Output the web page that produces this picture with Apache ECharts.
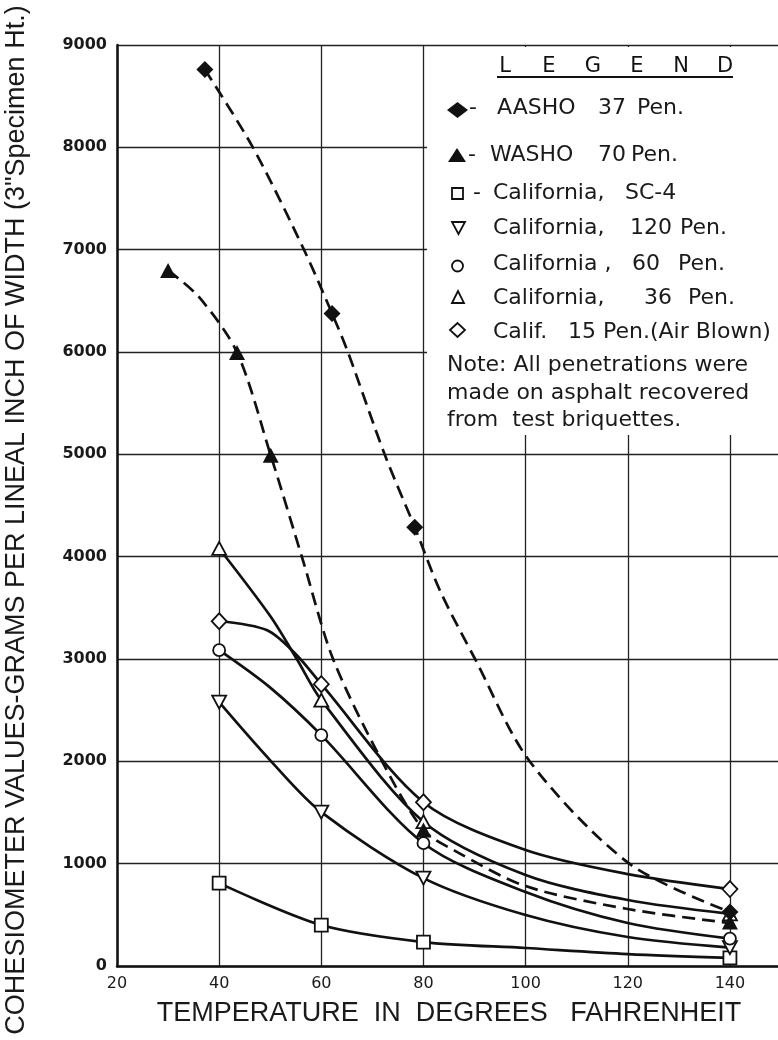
<!DOCTYPE html>
<html>
<head>
<meta charset="utf-8">
<title>Cohesiometer values vs temperature</title>
<script src="https://cdn.jsdelivr.net/npm/echarts@6.0.0/dist/echarts.min.js"></script>
<style>
  html, body { margin: 0; padding: 0; background: #fff; }
  #chart { width: 778px; height: 1040px; }
</style>
</head>
<body>
<div id="chart"></div>
<script>
// tick values
var xTicks = [20, 40, 60, 80, 100, 120, 140];
var yTicks = [0, 1000, 2000, 3000, 4000, 5000, 6000, 7000, 8000, 9000];

// measured points (deg F, grams per lineal inch of width)
var aashoX = [37.2, 62.1, 78.3, 140];
var aashoY = [8760, 6377, 4287, 527];
var washoX = [30, 43.5, 50.1, 80, 140];
var washoY = [6797, 5996, 4990, 1330, 430];
var sc4X = [40, 60, 80, 140];
var sc4Y = [810, 400, 234, 80];
var pen120X = [40, 60, 80, 140];
var pen120Y = [2578, 1504, 859, 180];
var pen60X = [40, 60, 80, 140];
var pen60Y = [3086, 2256, 1200, 268];
var pen36X = [40, 60, 80, 140];
var pen36Y = [4080, 2598, 1410, 510];
var pen15X = [40, 60, 80, 140];
var pen15Y = [3369, 2754, 1600, 752];

// points
var aashoCurveX = [37.2, 46.6, 56.6, 62.1, 65.2, 72.4, 78.3, 83.2, 90.1, 100.8, 120.3, 140];
var aashoCurveY = [8760, 8000, 7000, 6377, 6000, 5000, 4287, 3672, 3000, 2000, 1000, 527];
var washoCurveX = [30, 36, 43.5, 50.1, 56.4, 62.3, 71.9, 80, 86, 100, 120, 140];
var washoCurveY = [6797, 6540, 5996, 4990, 3965, 3000, 2000, 1330, 1130, 781, 557, 420];
var sc4CurveX = [40, 60, 80, 100, 120, 140];
var sc4CurveY = [810, 400, 234, 176, 117, 80];
var pen120CurveX = [40, 50, 60, 80, 100, 120, 140];
var pen120CurveY = [2578, 2010, 1504, 859, 498, 283, 180];
var pen60CurveX = [40, 50, 60, 80, 100, 120, 140];
var pen60CurveY = [3086, 2720, 2256, 1200, 723, 420, 268];
var pen36CurveX = [40, 50, 55.2, 60, 80, 100, 120, 140];
var pen36CurveY = [4080, 3420, 3000, 2598, 1410, 889, 645, 510];
var pen15CurveX = [40, 49.4, 55.2, 60, 80, 100, 120, 140];
var pen15CurveY = [3369, 3281, 3037, 2754, 1600, 1133, 898, 752];

var ink = '#111';

function pairs(xs, ys) {
    return xs.map(function (x, i) { return [x, ys[i]]; });
}

function curve(name, xs, ys, dashed) {
    return {
        name: name,
        type: 'line',
        data: pairs(xs, ys),
        smooth: 0.3,
        showSymbol: false,
        symbol: 'none',
        z: 2,
        lineStyle: { color: ink, width: 2.7, type: dashed ? [13, 7] : 'solid' }
    };
}

function marks(name, xs, ys, symbol, size, filled, rotate) {
    return {
        name: name,
        type: 'scatter',
        data: pairs(xs, ys),
        symbol: symbol,
        symbolSize: size,
        symbolRotate: rotate || 0,
        z: filled ? 5 : 4,
        itemStyle: {
            color: filled ? ink : '#fff',
            borderColor: ink,
            borderWidth: filled ? 0 : 1.8,
            opacity: 1
        }
    };
}

// legend box drawn by hand (it also carries the note)
var legendFont = '22px "DejaVu Sans"';
var legendRows = [
    { y: 108, parts: [[469, '-'], [497, 'AASHO'], [598, '37'], [637, 'Pen.']] },
    { y: 155, parts: [[468, '-'], [490, 'WASHO'], [598, '70'], [631, 'Pen.']] },
    { y: 193, parts: [[473, '-'], [493, 'California,'], [625, 'SC-4']] },
    { y: 228, parts: [[493, 'California,'], [630, '120'], [680, 'Pen.']] },
    { y: 264, parts: [[493, 'California ,'], [632, '60'], [678, 'Pen.']] },
    { y: 298, parts: [[493, 'California,'], [644, '36'], [688, 'Pen.']] },
    { y: 332, parts: [[493, 'Calif.'], [568, '15 Pen.(Air Blown)']] },
    { y: 365, parts: [[447, 'Note: All penetrations were']] },
    { y: 393, parts: [[447, 'made on asphalt recovered']] },
    { y: 420, parts: [[447, 'from  test briquettes.']] }
];

var graphics = [
    { type: 'rect', z: 50, shape: { x: 427, y: 47, width: 360, height: 388 }, style: { fill: '#fff' } },
    { type: 'line', z: 51, shape: { x1: 497, y1: 77, x2: 733, y2: 77 }, style: { stroke: ink, lineWidth: 2 } },
    // symbols
    { type: 'polygon', z: 51, shape: { points: [[447, 110], [457.5, 102], [468, 110], [457.5, 118]] }, style: { fill: ink } },
    { type: 'polygon', z: 51, shape: { points: [[448, 162], [457, 148], [466, 162]] }, style: { fill: ink } },
    { type: 'rect', z: 51, shape: { x: 452, y: 188, width: 11, height: 11 }, style: { fill: '#fff', stroke: ink, lineWidth: 1.8 } },
    { type: 'polygon', z: 51, shape: { points: [[452, 222], [465, 222], [458.5, 234]] }, style: { fill: '#fff', stroke: ink, lineWidth: 1.8 } },
    { type: 'circle', z: 51, shape: { cx: 457.5, cy: 266, r: 5.5 }, style: { fill: '#fff', stroke: ink, lineWidth: 1.8 } },
    { type: 'polygon', z: 51, shape: { points: [[452, 303], [458, 291], [464, 303]] }, style: { fill: '#fff', stroke: ink, lineWidth: 1.8 } },
    { type: 'polygon', z: 51, shape: { points: [[450, 330], [457.5, 323], [465, 330], [457.5, 337]] }, style: { fill: '#fff', stroke: ink, lineWidth: 1.8 } },
    // y axis title
    {
        type: 'text', z: 51, x: 17, y: 520, rotation: Math.PI / 2,
        style: {
            text: 'COHESIOMETER VALUES-GRAMS PER LINEAL INCH OF WIDTH (3"Specimen Ht.)',
            font: '27px "Liberation Sans"', fill: '#1a1a1a', align: 'center', verticalAlign: 'middle'
        }
    }
];

'LEGEND'.split('').forEach(function (ch, i) {
    graphics.push({
        type: 'text', z: 51, x: 505 + i * 44, y: 67,
        style: { text: ch, font: '21px "DejaVu Sans"', fill: ink, align: 'center', verticalAlign: 'middle' }
    });
});

legendRows.forEach(function (row) {
    row.parts.forEach(function (p) {
        graphics.push({
            type: 'text', z: 51, x: p[0], y: row.y,
            style: { text: p[1], font: legendFont, fill: '#1a1a1a', align: 'left', verticalAlign: 'middle' }
        });
    });
});

var myChart = echarts.init(document.getElementById('chart'), null, { renderer: 'canvas' });

var option = {
    animation: false,
    backgroundColor: '#fff',
    grid: { left: 117, right: -3, top: 45, bottom: 74, outerBoundsMode: 'none' },
    xAxis: {
        type: 'value',
        min: xTicks[0],
        max: 150,
        interval: 20,
        name: 'TEMPERATURE  IN  DEGREES   FAHRENHEIT',
        nameLocation: 'middle',
        nameGap: 34,
        nameTextStyle: { fontFamily: 'Liberation Sans', fontSize: 27, color: '#1a1a1a' },
        axisLine: { show: true, lineStyle: { color: ink, width: 2.5 } },
        axisTick: { show: false },
        axisLabel: {
            showMaxLabel: false,
            margin: 10,
            fontFamily: 'DejaVu Sans',
            fontSize: 16,
            color: '#1a1a1a',
            formatter: function (v) { return xTicks.indexOf(v) >= 0 ? String(v) : ''; }
        },
        splitLine: { show: true, lineStyle: { color: '#222', width: 1.3 } }
    },
    yAxis: {
        type: 'value',
        min: yTicks[0],
        max: yTicks[yTicks.length - 1],
        interval: 1000,
        axisLine: { show: true, lineStyle: { color: ink, width: 2.5 } },
        axisTick: { show: false },
        axisLabel: {
            margin: 10,
            fontFamily: 'DejaVu Sans',
            fontWeight: 'bold',
            fontSize: 16,
            color: '#1a1a1a',
            formatter: function (v) { return String(v); }
        },
        splitLine: { show: true, lineStyle: { color: '#222', width: 1.3 } }
    },
    series: [
        curve('AASHO 37 Pen.', aashoCurveX, aashoCurveY, true),
        curve('WASHO 70 Pen.', washoCurveX, washoCurveY, true),
        curve('California, SC-4', sc4CurveX, sc4CurveY, false),
        curve('California, 120 Pen.', pen120CurveX, pen120CurveY, false),
        curve('California, 60 Pen.', pen60CurveX, pen60CurveY, false),
        curve('California, 36 Pen.', pen36CurveX, pen36CurveY, false),
        curve('Calif. 15 Pen. (Air Blown)', pen15CurveX, pen15CurveY, false),
        marks('California, SC-4', sc4X, sc4Y, 'rect', 13, false),
        marks('California, 120 Pen.', pen120X, pen120Y, 'triangle', [14, 13], false, 180),
        marks('California, 60 Pen.', pen60X, pen60Y, 'circle', 12, false),
        marks('California, 36 Pen.', pen36X, pen36Y, 'triangle', [14, 13], false),
        marks('Calif. 15 Pen. (Air Blown)', pen15X, pen15Y, 'diamond', [15, 16], false),
        marks('WASHO 70 Pen.', washoX, washoY, 'triangle', [16, 15], true),
        marks('AASHO 37 Pen.', aashoX, aashoY, 'diamond', [17, 17], true)
    ],
    graphic: graphics
};
myChart.setOption(option);
</script>
</body>
</html>
